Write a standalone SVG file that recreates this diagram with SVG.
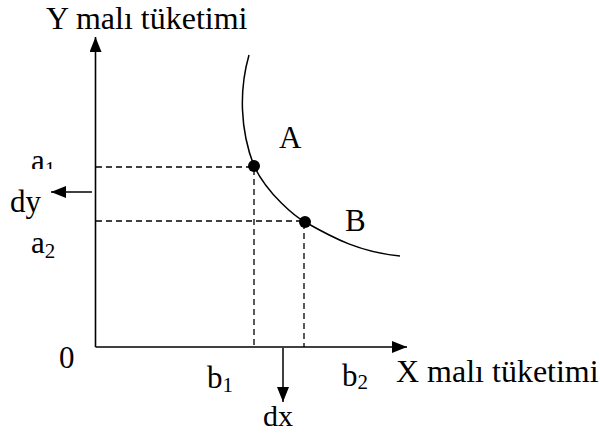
<svg xmlns="http://www.w3.org/2000/svg" width="600" height="433" viewBox="0 0 600 433">
<style>
text{font-family:"Liberation Serif","Times New Roman",serif;fill:#000;font-size:31px}
.sub{font-size:21px}
.title{font-size:32px}
.axis{stroke:#000;stroke-width:1.6;fill:none}
.dash{stroke:#000;stroke-width:1.3;stroke-dasharray:6 4;fill:none}
.curve{stroke:#000;stroke-width:1.5;fill:none}
.arr{stroke:#000;stroke-width:1.5;fill:none}
</style>
<defs>
<marker id="ah" viewBox="0 0 15 12" refX="15" refY="6" markerWidth="15" markerHeight="12" markerUnits="userSpaceOnUse" orient="auto">
<path d="M0,0 L15,6 L0,12 Z" fill="#000"/>
</marker>
<clipPath id="clipA1"><rect x="0" y="140" width="90" height="29"/></clipPath>
</defs>
<g id="connectors">
<path id="y-axis" class="axis" d="M95.5,347 V37" marker-end="url(#ah)"/>
<path id="x-axis" class="axis" d="M95.5,347 H407" marker-end="url(#ah)"/>
<path class="dash" d="M96,167 H254 V347"/>
<path class="dash" d="M96,221 H304 V347"/>
<path id="dy-arrow" class="arr" d="M92,192 H51" marker-end="url(#ah)"/>
<path id="dx-arrow" class="arr" d="M283,348 V402" marker-end="url(#ah)"/>
</g>
<g id="curve">
<path class="curve" d="M249,55 C239,90 240,130 254,166 C268,195 296,217 305,222 C335,239 360,252 400,256"/>
</g>
<g id="pointA">
<circle cx="254" cy="166" r="6" fill="#000"/>
<text x="279" y="148">A</text>
</g>
<g id="pointB">
<circle cx="305" cy="222" r="6" fill="#000"/>
<text x="345" y="231">B</text>
</g>
<g id="labels">
<text class="title" x="46" y="29">Y malı tüketimi</text>
<text class="title" x="396" y="382">X malı tüketimi</text>
<text x="59" y="368">0</text>
<text x="207" y="388">b<tspan class="sub" dy="4">1</tspan></text>
<text x="342" y="386">b<tspan class="sub" dy="3">2</tspan></text>
<text x="263" y="426" style="font-size:30px">dx</text>
<text x="10" y="212">dy</text>
<text x="31" y="171" clip-path="url(#clipA1)">a<tspan class="sub" dy="5">1</tspan></text>
<text x="31" y="253">a<tspan class="sub" dy="5">2</tspan></text>
</g>
</svg>
